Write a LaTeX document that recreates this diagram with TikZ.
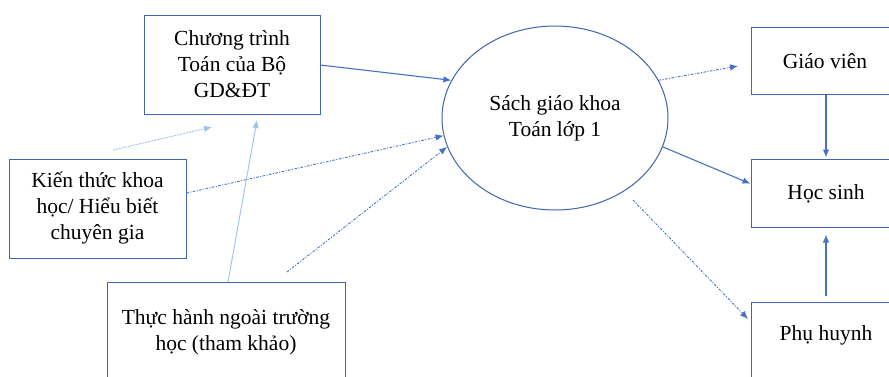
\documentclass[tikz,border=0pt]{standalone}
\usepackage{fontspec}
\setmainfont{Liberation Serif}
\usetikzlibrary{arrows.meta,calc,shapes.geometric}
\definecolor{boxc}{HTML}{4064AE}
\definecolor{arrc}{HTML}{4472C4}
\definecolor{lightc}{HTML}{9DC3E6}
\tikzset{
  box/.style={draw=boxc,line width=1pt,rectangle,inner sep=0pt,align=center,font=\fontsize{21.5}{26}\selectfont},
  lbl/.style={align=center,inner sep=0pt,font=\fontsize{21.5}{26}\selectfont},
  solidarr/.style={draw=arrc,line width=1.1pt,-{Latex[length=8pt,width=6.5pt]}},
  dotarr/.style={draw=arrc,line width=0.9pt,dash pattern=on 2.5pt off 1.5pt on 1pt off 1.5pt,-{Latex[length=8pt,width=6.5pt]}},
  lightarr/.style={draw=lightc,line width=0.9pt,-{Latex[length=8pt,width=6.5pt]}},
  lightdot/.style={draw=lightc,line width=0.9pt,dash pattern=on 2pt off 1pt,-{Latex[length=8pt,width=6.5pt]}},
}
\begin{document}
\begin{tikzpicture}[x=1pt,y=-1pt]
\useasboundingbox (0,0) rectangle (889,376);
\clip (0,0) rectangle (889,376);
\fill[white] (0,0) rectangle (889,376);
% nodes
\node[box,minimum width=176pt,minimum height=99pt] (ct) at (232,64.5) {Chương trình\\Toán của Bộ\\GD\&ĐT};
\node[box,minimum width=177pt,minimum height=99pt] (kt) at (97.5,208.5) {Kiến thức khoa\\học/ Hiểu biết\\chuyên gia};
\node[box,minimum width=238pt,minimum height=138pt] (th) at (226,351) {};
\node[lbl] (thtext) at (226,332) {Thực hành ngoài trường\\học (tham khảo)};
\node[ellipse,draw=boxc,line width=1pt,minimum width=226pt,minimum height=184pt,inner sep=0pt,align=center,font=\fontsize{21.5}{26}\selectfont] (sgk) at (555,118) {Sách giáo khoa\\Toán lớp 1};
\node[box,minimum width=150pt,minimum height=67pt] (gv) at (826,60.5) {};
\node[lbl] (gvtext) at (825,61) {Giáo viên};
\node[box,minimum width=150pt,minimum height=68pt] (hs) at (826,193) {};
\node[lbl] (hstext) at (826,194) {Học sinh};
\node[box,minimum width=150pt,minimum height=98pt] (ph) at (826,351) {};
\node[lbl] (phtext) at (826,335) {Phụ huynh};
% free coordinates
\coordinate (a1) at (113,150);
\coordinate (a2) at (212,127);
\coordinate (b2) at (257,120);
\coordinate (c1) at (287,272);
\coordinate (gvin) at (738,66);
\coordinate (phin) at (748,319);
\coordinate (phout) at (633,200);
\coordinate (ctout) at (320,65);
\coordinate (thout) at (228,282);
% connectors
\draw[solidarr] (ctout) -- (sgk.160);
\draw[lightdot] (a1) -- (a2);
\draw[lightarr] (thout) -- (b2);
\draw[dotarr] (kt.east |- 0,193) -- (sgk.189);
\draw[dotarr] (c1) -- (sgk.195);
\draw[dotarr] (sgk.20) -- (gvin);
\draw[solidarr] (sgk.-15) -- (hs.173);
\draw[dotarr] (phout) -- (phin);
\draw[solidarr] (gv.south) -- ($(hs.north)+(0,-1)$);
\draw[solidarr] (ph.north |- 0,296) -- ($(hs.south)+(0,7)$);
\end{tikzpicture}
\end{document}
